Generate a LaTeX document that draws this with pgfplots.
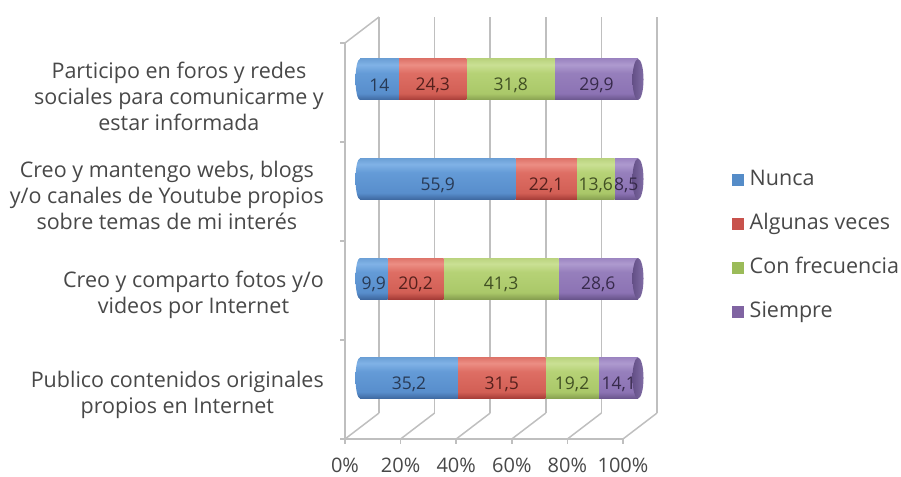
\documentclass[border=0pt]{standalone}
\usepackage{pgfplots}
\pgfplotsset{compat=1.18}
\usepackage{pgfplotstable}
\usepackage{fontspec}
\setmainfont{Open Sans}

\definecolor{labelgray}{RGB}{72,72,72}
\definecolor{gridgray}{RGB}{191,191,191}
% blue
\definecolor{bluD}{RGB}{62,104,160}
\definecolor{bluM}{RGB}{88,142,204}
\definecolor{bluM2}{RGB}{100,155,215}
\definecolor{bluL}{RGB}{128,178,230}
\definecolor{bluT}{RGB}{108,160,214}
\definecolor{bluTx}{RGB}{40,58,85}
% red
\definecolor{redD}{RGB}{165,60,55}
\definecolor{redM}{RGB}{210,95,85}
\definecolor{redM2}{RGB}{222,110,100}
\definecolor{redL}{RGB}{236,142,132}
\definecolor{redT}{RGB}{222,116,106}
\definecolor{redTx}{RGB}{85,32,28}
% green
\definecolor{grnD}{RGB}{135,160,80}
\definecolor{grnM}{RGB}{170,200,105}
\definecolor{grnM2}{RGB}{182,210,118}
\definecolor{grnL}{RGB}{202,224,148}
\definecolor{grnT}{RGB}{186,211,126}
\definecolor{grnTx}{RGB}{65,80,35}
% purple
\definecolor{purD}{RGB}{105,85,140}
\definecolor{purM}{RGB}{140,115,180}
\definecolor{purM2}{RGB}{150,127,188}
\definecolor{purL}{RGB}{174,154,207}
\definecolor{purT}{RGB}{156,133,193}
\definecolor{purTx}{RGB}{55,42,75}
\definecolor{capD}{RGB}{100,80,135}
\definecolor{capL}{RGB}{128,108,165}
% legend colours
\definecolor{legBlue}{RGB}{85,140,200}
\definecolor{legRed}{RGB}{200,82,76}
\definecolor{legGreen}{RGB}{155,187,89}
\definecolor{legPurple}{RGB}{128,100,162}

\pgfdeclareverticalshading{cylblue}{100bp}{color(0bp)=(bluD); color(25bp)=(bluD); color(33bp)=(bluM); color(58bp)=(bluM2); color(68bp)=(bluL); color(75bp)=(bluT); color(100bp)=(bluT)}
\pgfdeclareverticalshading{cylred}{100bp}{color(0bp)=(redD); color(25bp)=(redD); color(33bp)=(redM); color(58bp)=(redM2); color(68bp)=(redL); color(75bp)=(redT); color(100bp)=(redT)}
\pgfdeclareverticalshading{cylgreen}{100bp}{color(0bp)=(grnD); color(25bp)=(grnD); color(33bp)=(grnM); color(58bp)=(grnM2); color(68bp)=(grnL); color(75bp)=(grnT); color(100bp)=(grnT)}
\pgfdeclareverticalshading{cylpurple}{100bp}{color(0bp)=(purD); color(25bp)=(purD); color(33bp)=(purM); color(58bp)=(purM2); color(68bp)=(purL); color(75bp)=(purT); color(100bp)=(purT)}
\pgfdeclarehorizontalshading{cylcap}{100bp}{color(0bp)=(capD); color(25bp)=(capD); color(75bp)=(capL); color(100bp)=(capL)}

\pgfdeclareplotmark{lcap}{\pgfpathellipse{\pgfpointorigin}{\pgfqpoint{4.5bp}{0pt}}{\pgfqpoint{0pt}{20.5bp}}\pgfshadepath{cylblue}{0}\pgfusepath{}}
\pgfdeclareplotmark{rcap}{\pgfpathellipse{\pgfpointorigin}{\pgfqpoint{5.5bp}{0pt}}{\pgfqpoint{0pt}{20.5bp}}\pgfshadepath{cylcap}{0}\pgfusepath{}}

\pgfplotstableread{
y nunca algunas frecuencia siempre
0 35.2 31.5 19.2 14.1
1 9.9 20.2 41.3 28.6
2 55.9 22.1 13.6 8.5
3 14 24.3 31.8 29.9
}\datatable

\pgfplotstableread{
x y lab
17.6 0 35,2
4.95 1 9,9
27.95 2 55,9
7 3 14
}\labblue
\pgfplotstableread{
x y lab
50.95 0 31,5
20 1 20,2
66.95 2 22,1
26.15 3 24,3
}\labred
\pgfplotstableread{
x y lab
76.3 0 19,2
50.75 1 41,3
84.8 2 13,6
54.2 3 31,8
}\labgreen
\pgfplotstableread{
x y lab
93.05 0 14,1
85.7 1 28,6
95.75 2 8,5
85.05 3 29,9
}\labpurple

\tikzset{wall/.style={draw=gridgray, line width=1.5bp}}
\pgfplotsset{
  common/.style={
    at={(345bp,37.8bp)}, anchor=south west,
    x=2.78bp, y=99.5bp,
    xmin=-5.4, xmax=106.5, ymin=-0.615, ymax=3.63,
    clip=false,
  },
  datalab/.style={draw=none, mark=none, nodes near coords, point meta=explicit symbolic,
    every node near coord/.append style={anchor=center, yshift=-6bp, inner sep=0pt,
      font=\fontsize{17.5bp}{20bp}\selectfont, text=#1}},
}

% one stacked cylinder (table row #1) per axis, so that each is shaded on its own
\newcommand\baraxis[2]{%
\begin{axis}[common, hide axis, xbar stacked, bar width=41bp]
\addplot[draw=none, shade, shading=cylblue] table[x=nunca, y=y, skip coords between index={0}{#1}, skip coords between index={#2}{4}] {\datatable};
\addplot[draw=none, shade, shading=cylred] table[x=algunas, y=y, skip coords between index={0}{#1}, skip coords between index={#2}{4}] {\datatable};
\addplot[draw=none, shade, shading=cylgreen] table[x=frecuencia, y=y, skip coords between index={0}{#1}, skip coords between index={#2}{4}] {\datatable};
\addplot[draw=none, shade, shading=cylpurple] table[x=siempre, y=y, skip coords between index={0}{#1}, skip coords between index={#2}{4}] {\datatable};
\end{axis}}

\begin{document}
\begin{tikzpicture}
\path[use as bounding box] (0,0) rectangle (901bp,477bp);

% walls and left caps
\begin{axis}[common, hide axis]
\draw[wall] (axis cs:-5.4,-0.613) -- (axis cs:-5.4,3.367);
\pgfplotsinvokeforeach{0,1,2,3,4}{
  \draw[wall] (axis cs:-5.4,{-0.613+0.995*#1}) -- (axis cs:-7.2,{-0.613+0.995*#1});
}
\draw[wall] (axis cs:-5.4,3.367) -- (axis cs:6.83,3.628);
\pgfplotsinvokeforeach{0,1,2,3,4,5}{
  \draw[wall] (axis cs:{6.83+20*#1},-0.352) -- (axis cs:{6.83+20*#1},3.628);
  \draw[wall] (axis cs:{-5.4+20*#1},-0.613) -- (axis cs:{6.83+20*#1},-0.352);
  \draw[wall] (axis cs:{-5.4+20*#1},-0.613) -- (axis cs:{-5.4+20*#1},-0.663);
}
\draw[wall] (axis cs:-5.4,-0.613) -- (axis cs:94.6,-0.613);
\addplot[only marks, mark=lcap] coordinates {(0,0) (0,1) (0,2) (0,3)};
\end{axis}

% stacked cylinders
\baraxis{0}{1}
\baraxis{1}{2}
\baraxis{2}{3}
\baraxis{3}{4}

% caps, data labels, tick labels, legend
\begin{axis}[common,
  axis line style={draw=none},
  major tick length=0pt, tick style={draw=none},
  xtick={-5.4,14.6,34.6,54.6,74.6,94.6},
  xticklabels={0\%,20\%,40\%,60\%,80\%,100\%},
  xticklabel style={anchor=north, inner sep=0pt, yshift=-19bp,
    font=\fontsize{20bp}{22bp}\selectfont, text=labelgray},
  ytick={-0.165,0.835,1.835,2.835},
  yticklabels={{Publico contenidos originales\\propios en Internet},
    {Creo y comparto fotos y/o\\videos por Internet},
    {Creo y mantengo webs, blogs\\y/o canales de Youtube propios\\sobre temas de mi interés},
    {Participo en foros y redes\\sociales para comunicarme y\\estar informada}},
  yticklabel style={anchor=east, align=center, inner sep=0pt, xshift=-21bp,
    font=\fontsize{21.5bp}{26bp}\selectfont, text=labelgray},
  legend style={draw=none, fill=none, at={(1.2444,0.6378)}, anchor=north west,
    inner sep=0pt, row sep=24bp,
    font=\fontsize{21.5bp}{24bp}\selectfont, text=labelgray,
    nodes={inner sep=0pt, text height=15bp, text depth=5bp},
    /tikz/every odd column/.append style={column sep=6bp}},
  legend cell align=left,
]
\addplot[only marks, mark=rcap, forget plot] coordinates {(100,0) (100,1) (100,2) (100,3)};
\addplot[datalab=bluTx, forget plot] table[x=x, y=y, meta=lab] {\labblue};
\addplot[datalab=redTx, forget plot] table[x=x, y=y, meta=lab] {\labred};
\addplot[datalab=grnTx, forget plot] table[x=x, y=y, meta=lab] {\labgreen};
\addplot[datalab=purTx, forget plot] table[x=x, y=y, meta=lab] {\labpurple};
\addlegendimage{legend image code/.code={\fill[legBlue] (0bp,-5.5bp) rectangle (11bp,5.5bp);}}
\addlegendentry{Nunca}
\addlegendimage{legend image code/.code={\fill[legRed] (0bp,-5.5bp) rectangle (11bp,5.5bp);}}
\addlegendentry{Algunas veces}
\addlegendimage{legend image code/.code={\fill[legGreen] (0bp,-5.5bp) rectangle (11bp,5.5bp);}}
\addlegendentry{Con frecuencia}
\addlegendimage{legend image code/.code={\fill[legPurple] (0bp,-5.5bp) rectangle (11bp,5.5bp);}}
\addlegendentry{Siempre}
\end{axis}
\end{tikzpicture}
\end{document}
